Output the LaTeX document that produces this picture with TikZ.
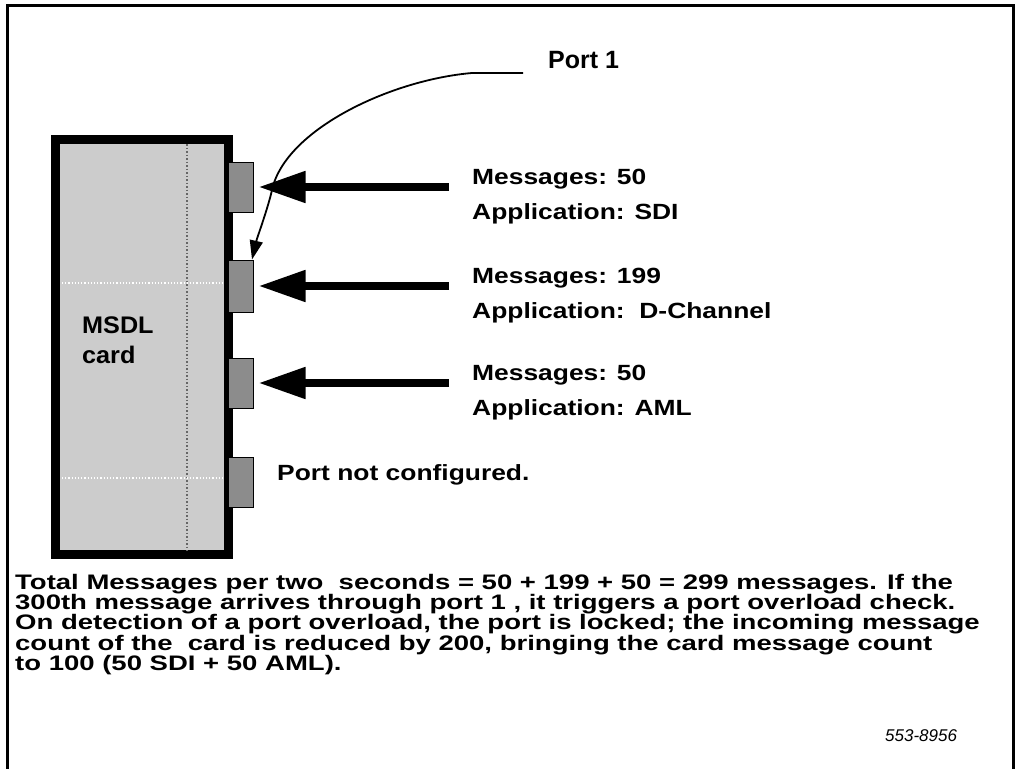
\documentclass[tikz,border=0pt]{standalone}
\usepackage{fontspec}
\setmainfont{Liberation Sans}
\newfontfamily\lblfont{Liberation Sans}[FakeStretch=1.2]
\newfontfamily\bodyfont{Liberation Sans}[FakeStretch=1.31]
\newfontfamily\cardfont{Liberation Sans}[FakeStretch=1.05]
\usetikzlibrary{arrows.meta}
\begin{document}
\begin{tikzpicture}[x=1pt,y=-1pt,
  lbl/.style={anchor=base west, inner sep=0pt, font=\lblfont\bfseries\fontsize{22}{26}\selectfont},
  body/.style={anchor=base west, inner sep=0pt, font=\bodyfont\bfseries\fontsize{21}{24}\selectfont},
  cardtxt/.style={anchor=base west, inner sep=0pt, font=\cardfont\bfseries\fontsize{24}{28}\selectfont},
  cardbox/.style={draw=black, line width=9pt, fill=black!20, minimum width=173pt, minimum height=415pt, inner sep=0pt},
  portbox/.style={draw=black, line width=1pt, fill=black!45, minimum width=25pt, minimum height=50pt, inner sep=0pt},
  bigarrow/.style={line width=8pt, -{Triangle[length=47pt,width=30pt]}, shorten >=5pt},
  thinarrow/.style={line width=1.8pt, -{Triangle[length=19pt,width=13pt]}}
]
\useasboundingbox (0,0) rectangle (1016,768);
\fill[white] (0,0) rectangle (1016,768);
% frame (no bottom edge)
\draw[line width=3pt] (7,772) -- (7,6) -- (1013.5,6) -- (1013.5,772);

% card
\node[cardbox] (card) at (142,347) {};
\draw[black!60, dotted, line width=1.5pt] (187,144) -- (187,551);
\draw[white, dotted, line width=1.2pt] (62,283) -- (224,283);
\draw[white, dotted, line width=1.2pt] (62,478) -- (224,478);
\node[cardtxt] (msdl) at (82,333) {MSDL};
\node[cardtxt] (cardlbl) at (82,363) {card};

% ports
\node[portbox] (port1) at (240.5,187) {};
\node[portbox, minimum height=52pt] (port2) at (240.5,286) {};
\node[portbox] (port3) at (240.5,383) {};
\node[portbox] (port4) at (240.5,482.5) {};

% incoming arrows
\coordinate (s1) at (449,187);
\coordinate (s2) at (449,286);
\coordinate (s3) at (449,383);
\draw[bigarrow] (s1) -- (port1.east);
\draw[bigarrow] (s2) -- (port2.east);
\draw[bigarrow] (s3) -- (port3.east);

% labels
\node[lbl] (m1) at (472,184) {Messages: 50};
\node[lbl] (a1) at (472,219) {Application: SDI};
\node[lbl] (m2) at (472,283) {Messages: 199};
\node[lbl] (a2) at (472,318) {Application:\ \ D-Channel};
\node[lbl] (m3) at (472,380) {Messages: 50};
\node[lbl] (a3) at (472,415) {Application: AML};
\node[lbl] (pnc) at (277,480) {Port not configured.};

% Port 1 callout
\node[anchor=base west, inner sep=0pt, font=\bfseries\fontsize{25}{28}\selectfont] (p1lbl) at (548,68) {Port 1};
\coordinate (p1a) at (523,73);
\draw[thinarrow] (p1a) -- (472,73) .. controls (390,80) and (285,130) .. (272,190)
  .. controls (268,208) and (257,238) .. ([xshift=-1.5pt]port2.north east);

% bottom text
\node[body] (t1) at (15,589) {Total Messages per two\ \ seconds = 50 + 199 + 50 = 299 messages. If the};
\node[body] (t2) at (15,609) {300th message arrives through port 1 , it triggers a port overload check.};
\node[body] (t3) at (15,629.5) {On detection of a port overload, the port is locked; the incoming message};
\node[body] (t4) at (15,650) {count of the\ \ card is reduced by 200, bringing the card message count};
\node[body] (t5) at (15,670) {to 100 (50 SDI + 50 AML).};
\node[anchor=base west, inner sep=0pt, font=\itshape\fontsize{17}{20}\selectfont] (code) at (885,741) {553-8956};
\end{tikzpicture}
\end{document}
